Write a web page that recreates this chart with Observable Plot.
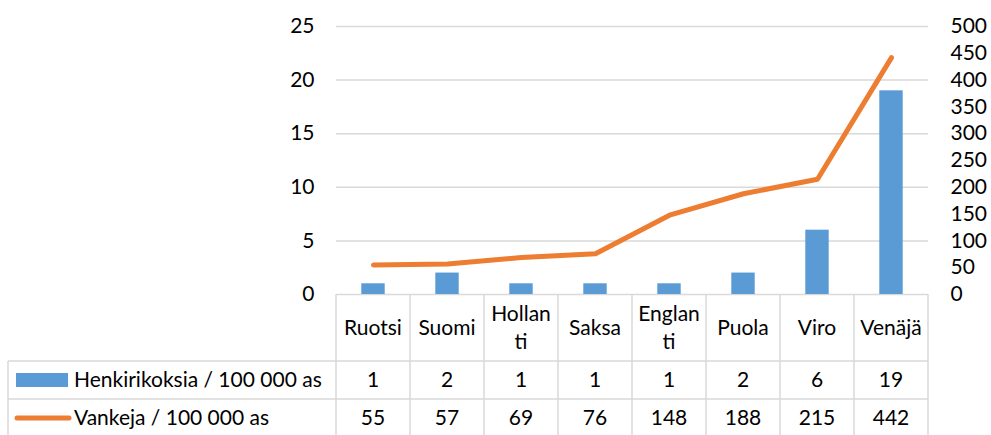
<!DOCTYPE html>
<html><head><meta charset="utf-8">
<script src="https://cdn.jsdelivr.net/npm/d3@7"></script>
<script src="https://cdn.jsdelivr.net/npm/@observablehq/plot@0.6"></script>
<style>body{margin:0;background:#fff;} #chart svg{font-family:Lato, "Open Sans", sans-serif;}</style>
</head><body><div id="chart"></div>
<script>
const countries = ["Ruotsi","Suomi","Hollanti","Saksa","Englanti","Puola","Viro","Venäjä"];
const headerLines = [["Ruotsi"],["Suomi"],["Hollan","ti"],["Saksa"],["Englan","ti"],["Puola"],["Viro"],["Venäjä"]];
const homicides = [1,2,1,1,1,2,6,19];
const prisoners = [55,57,69,76,148,188,215,442];
const seriesNames = ["Henkirikoksia / 100 000 as","Vankeja / 100 000 as"];
const leftTicks = [0,5,10,15,20,25];
const rightTicks = [0,50,100,150,200,250,300,350,400,450,500];
const barColor = "#5b9bd5", lineColor = "#ed7d31", gridColor = "#d9d9d9";

const data = countries.map((c,i)=>({country:c, hom:homicides[i], pris:prisoners[i]}));
const ratio = 500/25;
const FS = 21;

const chart = Plot.plot({
  width: 991, height: 435,
  marginTop: 26, marginBottom: 141, marginLeft: 336, marginRight: 63,
  style: {fontSize: FS + "px", fontFamily: "Lato", color: "#000", background: "#fff"},
  x: {domain: countries, padding: 0, axis: null},
  y: {domain: [0,25], axis: null},
  marks: [
    Plot.gridY(leftTicks, {stroke: gridColor, strokeOpacity: 1, strokeWidth: 1.5}),
    Plot.barY(data, {x: "country", y: "hom", fill: barColor, insetLeft: 25.3, insetRight: 25.3}),
    Plot.lineY(data, {x: "country", y: d => d.pris/ratio, stroke: lineColor, strokeWidth: 5, strokeLinecap: "round", strokeLinejoin: "round"}),
    Plot.axisY({anchor: "left", ticks: leftTicks, tickSize: 0, tickPadding: 22, label: null, fontSize: FS}),
    Plot.axisY({anchor: "right", ticks: rightTicks.map(v=>v/ratio), tickFormat: d => String(Math.round(d*ratio)), tickSize: 0, tickPadding: 22, label: null, fontSize: FS})
  ]
});
document.getElementById("chart").appendChild(chart);

// Data table below the plot, positioned from the chart's own scales
const xs = chart.scale("x");
const ys = chart.scale("y");
const bw = xs.bandwidth;
const xEnd = xs.apply(countries[countries.length-1]) + bw;
const yTop = ys.apply(0);
const row1 = yTop + 67, row2 = yTop + 105, yBot = 440;
const tableLeft = 8;
const svg = d3.select(chart);
const g = svg.append("g").attr("font-family","Lato").attr("font-size",FS).attr("fill","#000").attr("text-anchor","start");
const ln = (a,b,c,d)=>g.append("line").attr("x1",a).attr("y1",b).attr("x2",c).attr("y2",d).attr("stroke",gridColor).attr("stroke-width",1.5);
countries.forEach(c=>ln(xs.apply(c), yTop, xs.apply(c), yBot));
ln(xEnd, yTop, xEnd, yBot);
ln(tableLeft, row1, tableLeft, yBot);
ln(tableLeft, row1, xEnd, row1);
ln(tableLeft, row2, xEnd, row2);
countries.forEach((c,i)=>{
  const cx = xs.apply(c) + bw/2;
  const lines = headerLines[i];
  const cy = (yTop + row1)/2;
  lines.forEach((t,j)=>{
    g.append("text").attr("x",cx).attr("y", cy + (j - (lines.length-1)/2)*28).attr("text-anchor","middle").attr("dy","0.35em").text(t);
  });
  g.append("text").attr("x",cx).attr("y",(row1+row2)/2).attr("text-anchor","middle").attr("dy","0.35em").text(homicides[i]);
  g.append("text").attr("x",cx).attr("y",row2+19).attr("text-anchor","middle").attr("dy","0.35em").text(prisoners[i]);
});
g.append("rect").attr("x",16).attr("y",(row1+row2)/2-7).attr("width",52).attr("height",14).attr("fill",barColor);
g.append("text").attr("x",74).attr("y",(row1+row2)/2).attr("dy","0.35em").attr("text-anchor","start").text(seriesNames[0]);
g.append("line").attr("x1",17).attr("x2",69).attr("y1",row2+19).attr("y2",row2+19).attr("stroke",lineColor).attr("stroke-width",5).attr("stroke-linecap","round");
g.append("text").attr("x",74).attr("y",row2+19).attr("dy","0.35em").attr("text-anchor","start").text(seriesNames[1]);
</script>
</body></html>
